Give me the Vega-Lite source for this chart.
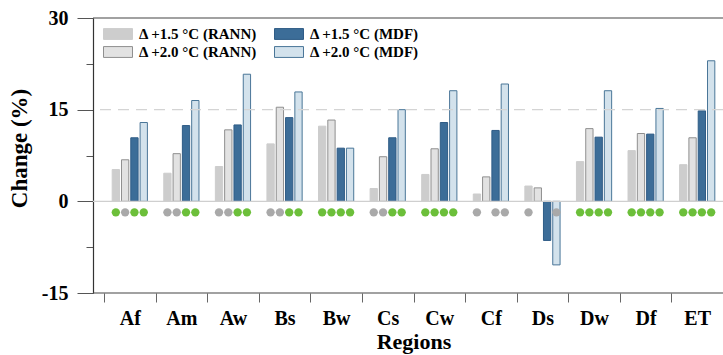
{
  "$schema": "https://vega.github.io/schema/vega-lite/v6.json",
  "width": 630,
  "height": 275,
  "autosize": {"type": "none"},
  "padding": {"left": 93, "top": 18, "right": 0, "bottom": 62},
  "background": "white",
  "config": {"view": {"stroke": null}, "font": "Liberation Serif"},
  "datasets": {
    "bars": [
      {"region": "Af", "series": "Δ +1.5 °C (RANN)", "value": 5.2},
      {"region": "Af", "series": "Δ +2.0 °C (RANN)", "value": 6.8},
      {"region": "Af", "series": "Δ +1.5 °C (MDF)", "value": 10.4},
      {"region": "Af", "series": "Δ +2.0 °C (MDF)", "value": 12.9},
      {"region": "Am", "series": "Δ +1.5 °C (RANN)", "value": 4.6},
      {"region": "Am", "series": "Δ +2.0 °C (RANN)", "value": 7.8},
      {"region": "Am", "series": "Δ +1.5 °C (MDF)", "value": 12.4},
      {"region": "Am", "series": "Δ +2.0 °C (MDF)", "value": 16.5},
      {"region": "Aw", "series": "Δ +1.5 °C (RANN)", "value": 5.7},
      {"region": "Aw", "series": "Δ +2.0 °C (RANN)", "value": 11.7},
      {"region": "Aw", "series": "Δ +1.5 °C (MDF)", "value": 12.5},
      {"region": "Aw", "series": "Δ +2.0 °C (MDF)", "value": 20.8},
      {"region": "Bs", "series": "Δ +1.5 °C (RANN)", "value": 9.4},
      {"region": "Bs", "series": "Δ +2.0 °C (RANN)", "value": 15.4},
      {"region": "Bs", "series": "Δ +1.5 °C (MDF)", "value": 13.7},
      {"region": "Bs", "series": "Δ +2.0 °C (MDF)", "value": 17.9},
      {"region": "Bw", "series": "Δ +1.5 °C (RANN)", "value": 12.3},
      {"region": "Bw", "series": "Δ +2.0 °C (RANN)", "value": 13.3},
      {"region": "Bw", "series": "Δ +1.5 °C (MDF)", "value": 8.7},
      {"region": "Bw", "series": "Δ +2.0 °C (MDF)", "value": 8.7},
      {"region": "Cs", "series": "Δ +1.5 °C (RANN)", "value": 2.1},
      {"region": "Cs", "series": "Δ +2.0 °C (RANN)", "value": 7.3},
      {"region": "Cs", "series": "Δ +1.5 °C (MDF)", "value": 10.4},
      {"region": "Cs", "series": "Δ +2.0 °C (MDF)", "value": 15.0},
      {"region": "Cw", "series": "Δ +1.5 °C (RANN)", "value": 4.4},
      {"region": "Cw", "series": "Δ +2.0 °C (RANN)", "value": 8.6},
      {"region": "Cw", "series": "Δ +1.5 °C (MDF)", "value": 12.9},
      {"region": "Cw", "series": "Δ +2.0 °C (MDF)", "value": 18.1},
      {"region": "Cf", "series": "Δ +1.5 °C (RANN)", "value": 1.2},
      {"region": "Cf", "series": "Δ +2.0 °C (RANN)", "value": 4.0},
      {"region": "Cf", "series": "Δ +1.5 °C (MDF)", "value": 11.6},
      {"region": "Cf", "series": "Δ +2.0 °C (MDF)", "value": 19.2},
      {"region": "Ds", "series": "Δ +1.5 °C (RANN)", "value": 2.5},
      {"region": "Ds", "series": "Δ +2.0 °C (RANN)", "value": 2.2},
      {"region": "Ds", "series": "Δ +1.5 °C (MDF)", "value": -6.4},
      {"region": "Ds", "series": "Δ +2.0 °C (MDF)", "value": -10.4},
      {"region": "Dw", "series": "Δ +1.5 °C (RANN)", "value": 6.5},
      {"region": "Dw", "series": "Δ +2.0 °C (RANN)", "value": 11.9},
      {"region": "Dw", "series": "Δ +1.5 °C (MDF)", "value": 10.5},
      {"region": "Dw", "series": "Δ +2.0 °C (MDF)", "value": 18.1},
      {"region": "Df", "series": "Δ +1.5 °C (RANN)", "value": 8.3},
      {"region": "Df", "series": "Δ +2.0 °C (RANN)", "value": 11.1},
      {"region": "Df", "series": "Δ +1.5 °C (MDF)", "value": 11.0},
      {"region": "Df", "series": "Δ +2.0 °C (MDF)", "value": 15.2},
      {"region": "ET", "series": "Δ +1.5 °C (RANN)", "value": 6.0},
      {"region": "ET", "series": "Δ +2.0 °C (RANN)", "value": 10.4},
      {"region": "ET", "series": "Δ +1.5 °C (MDF)", "value": 14.8},
      {"region": "ET", "series": "Δ +2.0 °C (MDF)", "value": 23.0}
    ],
    "dots": [
      {"region": "Af", "series": "Δ +1.5 °C (RANN)", "sig": "yes"},
      {"region": "Af", "series": "Δ +2.0 °C (RANN)", "sig": "no"},
      {"region": "Af", "series": "Δ +1.5 °C (MDF)", "sig": "yes"},
      {"region": "Af", "series": "Δ +2.0 °C (MDF)", "sig": "yes"},
      {"region": "Am", "series": "Δ +1.5 °C (RANN)", "sig": "no"},
      {"region": "Am", "series": "Δ +2.0 °C (RANN)", "sig": "no"},
      {"region": "Am", "series": "Δ +1.5 °C (MDF)", "sig": "yes"},
      {"region": "Am", "series": "Δ +2.0 °C (MDF)", "sig": "yes"},
      {"region": "Aw", "series": "Δ +1.5 °C (RANN)", "sig": "no"},
      {"region": "Aw", "series": "Δ +2.0 °C (RANN)", "sig": "no"},
      {"region": "Aw", "series": "Δ +1.5 °C (MDF)", "sig": "yes"},
      {"region": "Aw", "series": "Δ +2.0 °C (MDF)", "sig": "yes"},
      {"region": "Bs", "series": "Δ +1.5 °C (RANN)", "sig": "no"},
      {"region": "Bs", "series": "Δ +2.0 °C (RANN)", "sig": "no"},
      {"region": "Bs", "series": "Δ +1.5 °C (MDF)", "sig": "yes"},
      {"region": "Bs", "series": "Δ +2.0 °C (MDF)", "sig": "yes"},
      {"region": "Bw", "series": "Δ +1.5 °C (RANN)", "sig": "yes"},
      {"region": "Bw", "series": "Δ +2.0 °C (RANN)", "sig": "yes"},
      {"region": "Bw", "series": "Δ +1.5 °C (MDF)", "sig": "yes"},
      {"region": "Bw", "series": "Δ +2.0 °C (MDF)", "sig": "yes"},
      {"region": "Cs", "series": "Δ +1.5 °C (RANN)", "sig": "no"},
      {"region": "Cs", "series": "Δ +2.0 °C (RANN)", "sig": "no"},
      {"region": "Cs", "series": "Δ +1.5 °C (MDF)", "sig": "yes"},
      {"region": "Cs", "series": "Δ +2.0 °C (MDF)", "sig": "yes"},
      {"region": "Cw", "series": "Δ +1.5 °C (RANN)", "sig": "yes"},
      {"region": "Cw", "series": "Δ +2.0 °C (RANN)", "sig": "yes"},
      {"region": "Cw", "series": "Δ +1.5 °C (MDF)", "sig": "yes"},
      {"region": "Cw", "series": "Δ +2.0 °C (MDF)", "sig": "yes"},
      {"region": "Cf", "series": "Δ +1.5 °C (RANN)", "sig": "no"},
      {"region": "Cf", "series": "Δ +1.5 °C (MDF)", "sig": "no"},
      {"region": "Cf", "series": "Δ +2.0 °C (MDF)", "sig": "no"},
      {"region": "Ds", "series": "Δ +1.5 °C (RANN)", "sig": "no"},
      {"region": "Ds", "series": "Δ +2.0 °C (MDF)", "sig": "no"},
      {"region": "Dw", "series": "Δ +1.5 °C (RANN)", "sig": "yes"},
      {"region": "Dw", "series": "Δ +2.0 °C (RANN)", "sig": "yes"},
      {"region": "Dw", "series": "Δ +1.5 °C (MDF)", "sig": "yes"},
      {"region": "Dw", "series": "Δ +2.0 °C (MDF)", "sig": "yes"},
      {"region": "Df", "series": "Δ +1.5 °C (RANN)", "sig": "yes"},
      {"region": "Df", "series": "Δ +2.0 °C (RANN)", "sig": "yes"},
      {"region": "Df", "series": "Δ +1.5 °C (MDF)", "sig": "yes"},
      {"region": "Df", "series": "Δ +2.0 °C (MDF)", "sig": "yes"},
      {"region": "ET", "series": "Δ +1.5 °C (RANN)", "sig": "yes"},
      {"region": "ET", "series": "Δ +2.0 °C (RANN)", "sig": "yes"},
      {"region": "ET", "series": "Δ +1.5 °C (MDF)", "sig": "yes"},
      {"region": "ET", "series": "Δ +2.0 °C (MDF)", "sig": "yes"}
    ],
    "refs": [
      {"level": 30, "kind": "top"},
      {"level": 15, "kind": "dash"},
      {"level": 0, "kind": "zero"},
      {"level": -15, "kind": "base"}
    ]
  },
  "layer": [
    {
      "data": {"name": "bars"},
      "mark": {"type": "bar", "strokeWidth": 1},
      "encoding": {
        "x": {
          "field": "region", "type": "nominal", "sort": null,
          "scale": {"range": [11, 630], "paddingInner": 0, "paddingOuter": 0},
          "axis": {
            "title": "Regions", "domain": false, "tickBand": "extent", "tickSize": 9, "tickColor": "#666",
            "labelAngle": 0, "labelFont": "Liberation Serif", "labelFontWeight": "bold", "labelFontSize": 20,
            "labelColor": "#000", "labelPadding": 6, "titleFont": "Liberation Serif", "titleFontSize": 22,
            "titleFontWeight": "bold", "titleColor": "#000", "titlePadding": 3
          }
        },
        "xOffset": {
          "field": "series", "type": "nominal",
          "scale": {"domain": ["Δ +1.5 °C (RANN)", "Δ +2.0 °C (RANN)", "Δ +1.5 °C (MDF)", "Δ +2.0 °C (MDF)"], "paddingInner": 0.215, "paddingOuter": 0.88}
        },
        "y": {
          "field": "value", "type": "quantitative",
          "scale": {"domain": [-15, 30], "nice": false, "zero": false},
          "axis": {
            "title": "Change (%)", "values": [-15, -7.5, 0, 7.5, 15, 22.5, 30],
            "labelExpr": "datum.value % 15 === 0 ? toString(datum.value) : ''",
            "grid": false, "domainColor": "#333", "domainWidth": 1.2, "tickColor": "#555",
            "tickSize": {"condition": {"test": "datum.value % 15 === 0", "value": 16}, "value": 7},
            "labelFont": "Liberation Serif", "labelFontWeight": "bold", "labelFontSize": 20, "labelColor": "#000",
            "labelPadding": 9, "titleFont": "Liberation Serif", "titleFontSize": 23, "titleFontWeight": "bold",
            "titleColor": "#000", "titlePadding": 10, "titleY": 130
          }
        },
        "fill": {
          "field": "series", "type": "nominal",
          "scale": {
            "domain": ["Δ +1.5 °C (RANN)", "Δ +2.0 °C (RANN)", "Δ +1.5 °C (MDF)", "Δ +2.0 °C (MDF)"],
            "range": ["#cdcdcd", "#e2e2e2", "#3c6d98", "#d3e2ec"]
          },
          "legend": {
            "title": null, "orient": "none", "legendX": 17, "legendY": 8, "columns": 2, "padding": 0,
            "symbolType": "M-2,-0.75H2V0.75H-2Z", "symbolSize": 210, "symbolStrokeWidth": 1,
            "labelFont": "Liberation Serif", "labelFontWeight": "bold", "labelFontSize": 15, "labelColor": "#000",
            "labelOffset": 13, "columnPadding": 14, "rowPadding": 2, "labelLimit": 300
          }
        },
        "stroke": {
          "field": "series", "type": "nominal",
          "scale": {
            "domain": ["Δ +1.5 °C (RANN)", "Δ +2.0 °C (RANN)", "Δ +1.5 °C (MDF)", "Δ +2.0 °C (MDF)"],
            "range": ["#cdcdcd", "#8f8f8f", "#2f5c86", "#4a7698"]
          },
          "legend": {
            "title": null, "orient": "none", "legendX": 17, "legendY": 8, "columns": 2, "padding": 0,
            "symbolType": "M-2,-0.75H2V0.75H-2Z", "symbolSize": 210, "symbolStrokeWidth": 1,
            "labelFont": "Liberation Serif", "labelFontWeight": "bold", "labelFontSize": 15, "labelColor": "#000",
            "labelOffset": 13, "columnPadding": 14, "rowPadding": 2, "labelLimit": 300
          }
        }
      }
    },
    {
      "data": {"name": "refs"},
      "transform": [{"filter": "datum.kind === 'dash'"}],
      "mark": {"type": "rule", "color": "#d4d4d4", "strokeWidth": 1.2, "strokeDash": [11, 7]},
      "encoding": {"y": {"field": "level", "type": "quantitative", "title": "Change (%)"}}
    },
    {
      "data": {"name": "refs"},
      "transform": [{"filter": "datum.kind === 'zero'"}],
      "mark": {"type": "rule", "color": "#cfcfcf", "strokeWidth": 1.2},
      "encoding": {"y": {"field": "level", "type": "quantitative", "title": "Change (%)"}}
    },
    {
      "data": {"name": "dots"},
      "mark": {"type": "circle", "size": 70, "opacity": 1},
      "encoding": {
        "x": {"field": "region", "type": "nominal", "sort": null},
        "xOffset": {"field": "series", "type": "nominal"},
        "y": {"datum": -1.8, "type": "quantitative", "title": "Change (%)"},
        "color": {
          "field": "sig", "type": "nominal",
          "scale": {"domain": ["yes", "no"], "range": ["#6cbf3a", "#a9a9a9"]},
          "legend": null
        }
      }
    },
    {
      "data": {"name": "refs"},
      "transform": [{"filter": "datum.kind === 'top' || datum.kind === 'base'"}],
      "mark": {"type": "rule", "color": "#444", "strokeWidth": 1.2},
      "encoding": {"y": {"field": "level", "type": "quantitative", "title": "Change (%)"}}
    }
  ]
}
